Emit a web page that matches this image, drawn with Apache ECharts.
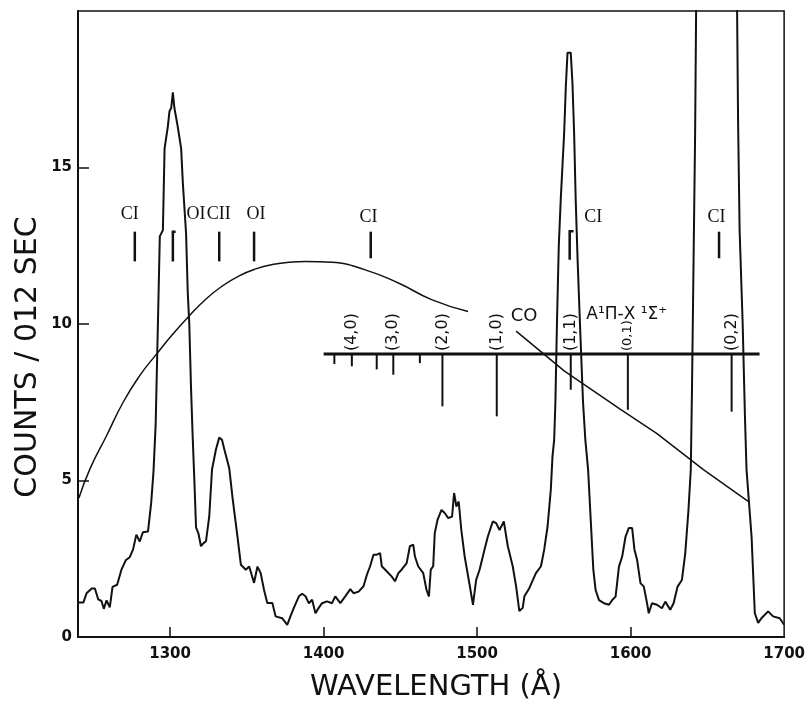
<!DOCTYPE html>
<html>
<head>
<meta charset="utf-8">
<script src="https://cdn.jsdelivr.net/npm/echarts@6/dist/echarts.min.js"></script>
<style>
html,body{margin:0;padding:0;background:#fff;}
#chart{width:808px;height:707px;}
</style>
</head>
<body>
<div id="chart"></div>
<script>
// ---- spectrum (wavelength in Å, counts / 0.12 sec) ----
const specWave = [
1240.6,1243.5,1245.6,1248.9,1251.0,1253.2,1255.3,1256.8,1258.6,1260.7,1262.5,1265.5,1268.3,1271.1,1273.7,1275.9,1278.0,1280.2,1282.3,1285.6,
1287.7,1289.2,1290.6,1291.6,1292.5,1293.3,1295.3,1296.4,1298.5,1299.6,1300.7,1301.8,1302.8,1303.9,1305.0,1307.2,1308.3,1310.4,1311.5,1312.5,
1313.6,1314.7,1315.8,1316.9,1318.5,1320.1,1321.8,1323.4,1325.5,1327.3,1329.9,1332.0,1333.8,1335.3,1338.5,1340.7,1343.9,1346.1,1349.3,1351.5,
1354.7,1356.9,1359.0,1361.2,1363.3,1366.6,1368.7,1373.0,1376.3,1378.4,1380.6,1383.9,1386.0,1388.2,1390.4,1392.5,1394.7,1396.8,1399.0,1402.2,
1405.5,1407.6,1410.9,1414.1,1417.4,1419.5,1422.8,1426.0,1428.2,1430.3,1432.5,1434.6,1436.8,1437.9,1441.1,1444.4,1446.5,1448.7,1450.8,1454.1,
1456.2,1458.4,1459.5,1461.6,1464.9,1467.0,1468.6,1469.8,1471.4,1472.4,1474.2,1476.8,1478.9,1481.1,1483.7,1485.0,1486.5,1488.0,1489.7,1491.9,
1495.1,1497.3,1499.4,1501.6,1504.8,1507.0,1510.2,1512.4,1514.6,1517.4,1520.0,1523.2,1525.4,1527.5,1529.7,1530.8,1534.0,1538.3,1541.6,1543.7,
1545.9,1548.0,1549.1,1550.2,1551.0,1552.0,1553.2,1554.5,1556.7,1557.8,1558.9,1561.0,1562.1,1563.2,1564.2,1565.5,1567.0,1569.0,1570.5,1572.3,
1574.0,1575.7,1577.2,1579.4,1582.6,1585.9,1588.0,1590.2,1592.4,1594.5,1596.7,1598.8,1601.0,1602.5,1604.2,1606.4,1608.6,1610.7,1611.8,1613.9,
1617.2,1620.4,1622.6,1625.8,1628.0,1630.6,1633.4,1635.6,1637.7,1639.2,1640.0,1641.0,1642.0,1643.0,1669.0,1670.0,1671.0,1673.0,1674.5,1675.5,
1678.8,1680.9,1683.1,1685.2,1689.6,1692.8,1697.1,1700.0
];
const specCounts = [
1.1,1.1,1.4,1.55,1.55,1.2,1.15,0.9,1.17,0.95,1.6,1.67,2.15,2.45,2.55,2.8,3.27,3.05,3.35,3.37,
4.3,5.3,6.8,9.0,11.0,12.8,13.0,15.6,16.3,16.8,16.9,17.4,16.9,16.9,16.3,15.6,14.5,12.9,11.0,10.0,
8.0,6.4,5.0,3.5,3.3,2.9,3.0,3.06,3.85,5.35,6.0,6.37,6.3,6.0,5.4,4.44,3.2,2.31,2.15,2.25,
1.73,2.25,2.04,1.5,1.09,1.09,0.66,0.6,0.39,0.66,0.93,1.3,1.38,1.3,1.08,1.19,0.76,0.93,1.08,1.14,
1.08,1.3,1.08,1.3,1.53,1.4,1.45,1.62,1.99,2.26,2.63,2.63,2.68,2.26,2.1,1.93,1.78,2.04,2.15,2.36,
2.9,2.95,2.57,2.26,2.04,1.51,1.3,2.15,2.26,3.32,3.74,4.06,3.96,3.8,3.85,4.6,4.17,4.33,3.42,2.57,
1.67,1.03,1.83,2.15,2.79,3.21,3.69,3.64,3.42,3.69,2.9,2.26,1.62,0.83,0.93,1.3,1.56,2.04,2.26,2.79,
3.53,4.7,5.77,6.3,7.5,10.0,12.5,14.0,16.1,17.6,18.67,18.67,17.7,16.1,14.0,12.0,10.0,7.5,6.3,5.35,
3.75,2.15,1.5,1.18,1.08,1.03,1.18,1.29,2.25,2.57,3.21,3.48,3.48,2.79,2.47,1.72,1.61,1.08,0.76,1.08,
1.03,0.92,1.13,0.87,1.08,1.61,1.82,2.68,4.07,5.35,8.0,12.0,16.0,22,22,16.5,13.0,10.0,7.0,5.35,
3.2,0.76,0.45,0.6,0.82,0.66,0.6,0.39
];

// ---- smooth response curve (two pieces) ----
const curveWaveA = [1240.6,1247.8,1258.6,1269.4,1280.2,1291.0,1301.8,1311.5,1323.4,1334.2,1345.0,1355.8,1366.6,1377.4,1388.2,1405.5,1427.1,1448.7,1470.3,1494.1];
const curveA     = [4.44,5.37,6.43,7.5,8.35,9.03,9.68,10.21,10.8,11.22,11.54,11.76,11.9,11.97,12.0,11.97,11.73,11.31,10.78,10.4];
const curveWaveB = [1525.4,1556.7,1593.4,1617.2,1647.4,1676.6];
const curveB     = [9.77,8.5,7.27,6.5,5.35,4.33];

// ---- atomic line identifications ----
const markWave  = [1277.0,1301.8,1332.0,1354.7,1430.7,1560.3,1657.6];
const markLow   = [12.0,12.0,12.0,12.0,12.1,12.05,12.1];
const markHigh  = [12.95,12.95,12.95,12.95,12.95,12.96,12.95];
const markHook  = [0,1.8,0,0,0,2.5,0];
const labelText = ['CI','OI','CII','OI','CI','CI','CI'];
const labelWave = [1273.7,1316.8,1331.7,1356.0,1429.2,1575.6,1656.0];
const labelVal  = [13.5,13.5,13.5,13.5,13.4,13.4,13.4];

// ---- CO A¹Π–X¹Σ⁺ band positions ----
const coLineStart = 1400, coLineEnd = 1684, coLineVal = 9.04;
const coWave   = [1407.0,1418.4,1434.6,1445.4,1462.7,1477.4,1512.8,1561.0,1598.2,1665.8];
const coBottom = [8.72,8.65,8.55,8.38,8.75,7.37,7.05,7.9,7.26,7.2];
const coLabels = ['','(4,0)','','(3,0)','','(2,0)','(1,0)','(1,1)','(0,1)','(0,2)'];
const bandName = ['CO','A¹Π-X ¹Σ⁺'];
const bandNameWave = [1530.6,1597.5];
const bandNameVal  = [10.24,10.3];

// ---- axes ----
const xTicks = [1300,1400,1500,1600,1700];
const yTicks = [0,5,10,15];

const chart = echarts.init(document.getElementById('chart'), null, {renderer:'canvas'});
const BLACK = '#111';

const option = {
  animation:false,
  backgroundColor:'#fff',
  grid:{left:78,right:21,top:11,bottom:70,show:true,borderColor:BLACK,borderWidth:1.5},
  xAxis:{
    type:'value',min:1240,max:1700,
    axisLine:{show:true,onZero:false,lineStyle:{color:BLACK,width:2.2}},
    axisTick:{show:true,inside:true,length:10,customValues:[1300,1400,1500,1600],lineStyle:{color:BLACK,width:1.5}},
    axisLabel:{customValues:xTicks,formatter:function(v){return String(v);},color:BLACK,fontSize:15,fontWeight:'bold',fontFamily:'DejaVu Sans',margin:10},
    splitLine:{show:false}
  },
  yAxis:{
    type:'value',min:0,max:20,
    axisLine:{show:true,onZero:false,lineStyle:{color:BLACK,width:2}},
    axisTick:{show:true,inside:true,length:11,customValues:[5,10,15],lineStyle:{color:BLACK,width:1.5}},
    axisLabel:{customValues:yTicks,formatter:function(v){return String(v);},color:BLACK,fontSize:15,fontWeight:'bold',fontFamily:'DejaVu Sans',margin:6},
    splitLine:{show:false}
  },
  graphic:[
    {type:'text',x:436,y:687,style:{text:'WAVELENGTH (Å)',fill:BLACK,fontSize:29,fontFamily:'DejaVu Sans',align:'center',verticalAlign:'middle'}},
    {type:'text',x:28,y:357,rotation:Math.PI/2,style:{text:'COUNTS / 012 SEC',fill:BLACK,fontSize:30,fontFamily:'DejaVu Sans',align:'center',verticalAlign:'middle'}}
  ],
  series:[
    {
      name:'spectrum',type:'line',symbol:'none',clip:true,
      data:specWave.map((w,i)=>[w,specCounts[i]]),
      lineStyle:{color:BLACK,width:2}
    },
    {
      name:'curveA',type:'line',smooth:true,symbol:'none',
      data:curveWaveA.map((w,i)=>[w,curveA[i]]),
      lineStyle:{color:BLACK,width:1.5}
    },
    {
      name:'curveB',type:'line',symbol:'none',
      data:curveWaveB.map((w,i)=>[w,curveB[i]]),
      lineStyle:{color:BLACK,width:1.5}
    },
    {
      name:'lineMarks',type:'custom',
      data:markWave.map((w,i)=>[w,markLow[i],markHigh[i],markHook[i]]),
      renderItem:function(params,api){
        const w=api.value(0), lo=api.value(1), hi=api.value(2), hook=api.value(3);
        const p1=api.coord([w,lo]), p2=api.coord([w,hi]);
        const pts=[p1,p2];
        if(hook>0){ pts.push(api.coord([w+hook,hi])); }
        return {type:'polyline',shape:{points:pts},style:{stroke:BLACK,lineWidth:2.5,fill:'none'}};
      }
    },
    {
      name:'lineLabels',type:'custom',
      data:labelWave.map((w,i)=>[w,labelVal[i]]),
      renderItem:function(params,api){
        const p=api.coord([api.value(0),api.value(1)]);
        return {type:'text',x:p[0],y:p[1],style:{text:labelText[params.dataIndex],fill:BLACK,fontSize:18,fontFamily:'Liberation Serif',align:'center',verticalAlign:'middle'}};
      }
    },
    {
      name:'coBar',type:'custom',
      data:[[coLineStart,coLineVal,coLineEnd]],
      renderItem:function(params,api){
        const a=api.coord([api.value(0),api.value(1)]), b=api.coord([api.value(2),api.value(1)]);
        return {type:'line',shape:{x1:a[0],y1:a[1],x2:b[0],y2:b[1]},style:{stroke:BLACK,lineWidth:3}};
      }
    },
    {
      name:'coTicks',type:'custom',
      data:coWave.map((w,i)=>[w,coBottom[i],coLineVal]),
      renderItem:function(params,api){
        const w=api.value(0);
        const a=api.coord([w,api.value(2)]), b=api.coord([w,api.value(1)]);
        const children=[{type:'line',shape:{x1:a[0],y1:a[1],x2:b[0],y2:b[1]},style:{stroke:BLACK,lineWidth:2}}];
        const t=coLabels[params.dataIndex];
        if(t){
          children.push({type:'text',x:a[0],y:a[1]-3,rotation:Math.PI/2,
            style:{text:t,fill:BLACK,fontSize:(t==='(0,1)')?13:16,fontFamily:'DejaVu Sans',align:'left',verticalAlign:'middle'}});
        }
        return {type:'group',children:children};
      }
    },
    {
      name:'bandName',type:'custom',
      data:bandNameWave.map((w,i)=>[w,bandNameVal[i]]),
      renderItem:function(params,api){
        const p=api.coord([api.value(0),api.value(1)]);
        return {type:'text',x:p[0],y:p[1],style:{text:bandName[params.dataIndex],fill:BLACK,fontSize:params.dataIndex===0?18:17,fontFamily:'DejaVu Sans',align:'center',verticalAlign:'middle'}};
      }
    }
  ]
};
chart.setOption(option);
</script>
</body>
</html>
